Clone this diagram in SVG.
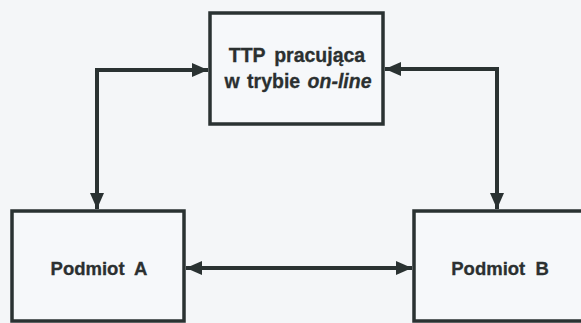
<svg xmlns="http://www.w3.org/2000/svg" width="581" height="323" viewBox="0 0 581 323">
<defs>
<style>
.box{fill:#f6f8fa;stroke:#2a3232;stroke-width:3.5}
.t{font-family:"Liberation Sans",Arial,sans-serif;font-weight:bold;fill:#2b3030;text-anchor:middle;stroke:#2b3030;stroke-width:0.3}
.c{fill:none;stroke:#2a3232;stroke-width:4}
</style>
<marker id="ah" markerUnits="userSpaceOnUse" viewBox="0 0 16 14" refX="16" refY="7" markerWidth="16" markerHeight="14" orient="auto-start-reverse">
<path d="M0,0 L16,7 L0,14 z" fill="#2a3232"/>
</marker>
</defs>
<rect width="581" height="323" fill="#f4f6f8"/>
<g id="ttp">
<rect class="box" x="210" y="13" width="173" height="111"/>
<text class="t" x="297" y="62" font-size="19.5" word-spacing="3.5">TTP pracująca</text>
<text class="t" x="298" y="88" font-size="19.5" word-spacing="2">w trybie <tspan font-style="italic">on-line</tspan></text>
</g>
<g id="podmiotA">
<rect class="box" x="12" y="211" width="172" height="110"/>
<text class="t" x="99" y="275" font-size="18.5" word-spacing="5">Podmiot A</text>
</g>
<g id="podmiotB">
<rect class="box" x="414" y="211" width="172" height="110"/>
<text class="t" x="500" y="275" font-size="18.5" word-spacing="5">Podmiot B</text>
</g>
<g id="connectors">
<path class="c" d="M208,70 H97 V209" marker-start="url(#ah)" marker-end="url(#ah)"/>
<path class="c" d="M385,69 H497 V209" marker-start="url(#ah)" marker-end="url(#ah)"/>
<path class="c" d="M186,268 H412" marker-start="url(#ah)" marker-end="url(#ah)"/>
</g>
</svg>
